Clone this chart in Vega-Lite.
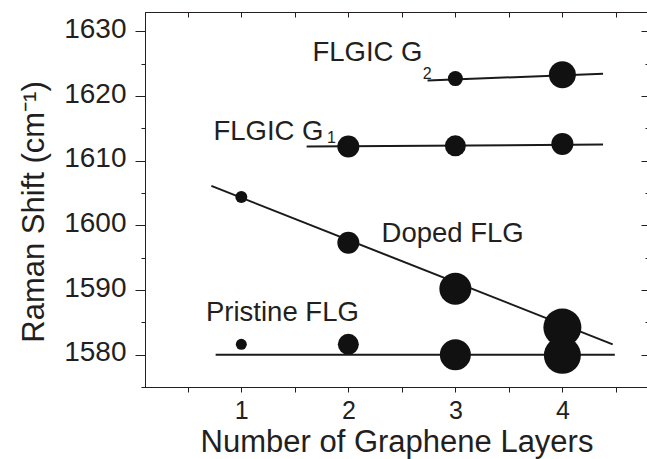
{
  "$schema": "https://vega.github.io/schema/vega-lite/v6.json",
  "width": 503,
  "height": 375,
  "autosize": {"type": "none"},
  "padding": {"left": 145, "top": 12, "right": 0, "bottom": 72},
  "background": "white",
  "config": {
    "view": {"stroke": "#231f20", "strokeWidth": 1},
    "font": "Liberation Sans",
    "axis": {"grid": false, "domainColor": "#231f20", "tickColor": "#231f20", "labelColor": "#231f20", "titleColor": "#231f20", "labelFont": "Liberation Sans", "titleFont": "Liberation Sans", "titleFontWeight": "normal", "labelOverlap": false, "labelFlush": false}
  },
  "datasets": {
    "points": [
      {"series": "Pristine FLG", "layers": 1, "shift": 1581.6, "spot": 11},
      {"series": "Pristine FLG", "layers": 2, "shift": 1581.6, "spot": 21},
      {"series": "Pristine FLG", "layers": 3, "shift": 1580.0, "spot": 31},
      {"series": "Pristine FLG", "layers": 4, "shift": 1579.9, "spot": 37},
      {"series": "Doped FLG", "layers": 1, "shift": 1604.4, "spot": 12},
      {"series": "Doped FLG", "layers": 2, "shift": 1597.3, "spot": 22},
      {"series": "Doped FLG", "layers": 3, "shift": 1590.2, "spot": 32},
      {"series": "Doped FLG", "layers": 4, "shift": 1584.2, "spot": 38},
      {"series": "FLGIC G1", "layers": 2, "shift": 1612.2, "spot": 22},
      {"series": "FLGIC G1", "layers": 3, "shift": 1612.3, "spot": 21},
      {"series": "FLGIC G1", "layers": 4, "shift": 1612.6, "spot": 22},
      {"series": "FLGIC G2", "layers": 3, "shift": 1622.7, "spot": 15},
      {"series": "FLGIC G2", "layers": 4, "shift": 1623.3, "spot": 27}
    ],
    "fits": [
      {"series": "Pristine FLG", "layers": 0.76, "shift": 1580.0},
      {"series": "Pristine FLG", "layers": 4.49, "shift": 1580.0},
      {"series": "Doped FLG", "layers": 0.72, "shift": 1606.1},
      {"series": "Doped FLG", "layers": 4.47, "shift": 1581.6},
      {"series": "FLGIC G1", "layers": 1.61, "shift": 1612.2},
      {"series": "FLGIC G1", "layers": 4.38, "shift": 1612.5},
      {"series": "FLGIC G2", "layers": 2.74, "shift": 1622.4},
      {"series": "FLGIC G2", "layers": 4.38, "shift": 1623.45}
    ],
    "labels": [
      {"text": "Doped FLG", "layers": 2.31, "shift": 1597.4},
      {"text": "Pristine FLG", "layers": 0.67, "shift": 1585.2},
      {"text": "FLGIC G", "layers": 0.74, "shift": 1613.2},
      {"text": "FLGIC G", "layers": 1.665, "shift": 1625.4}
    ],
    "subs": [
      {"text": "1", "layers": 1.8, "shift": 1612.8},
      {"text": "2", "layers": 2.695, "shift": 1622.6}
    ]
  },
  "resolve": {"axis": {"x": "independent", "y": "independent"}},
  "layer": [
    {
      "data": {"name": "fits"},
      "mark": {"type": "line", "color": "#1a1a1a", "strokeWidth": 2},
      "encoding": {
        "x": {"field": "layers", "type": "quantitative", "scale": {"domain": [0.1, 4.8], "nice": false, "zero": false},
          "axis": {"orient": "bottom", "values": [0.5, 1, 1.5, 2, 2.5, 3, 3.5, 4, 4.5], "labelExpr": "datum.value == 1 ? '1' : datum.value == 2 ? '2' : datum.value == 3 ? '3' : datum.value == 4 ? '4' : ''", "tickSize": 5, "labelPadding": 6, "labelFontSize": 25, "title": "Number of Graphene Layers", "titleFontSize": 31, "titleBaseline": "alphabetic", "titleY": 64}},
        "y": {"field": "shift", "type": "quantitative", "scale": {"domain": [1575, 1633], "nice": false, "zero": false},
          "axis": {"orient": "left", "values": [1575, 1580, 1585, 1590, 1595, 1600, 1605, 1610, 1615, 1620, 1625, 1630], "format": "d", "labelExpr": "datum.value % 10 === 0 ? datum.label : ''", "tickSize": {"condition": {"test": "datum.value % 10 === 0", "value": 10}, "value": 4}, "labelPadding": 9, "labelOffset": -2, "labelFontSize": 28, "title": "Raman Shift (cm⁻¹)", "titleFontSize": 31, "titleBaseline": "alphabetic", "titleX": -102, "titleY": 199.5, "titleAngle": 270}},
        "detail": {"field": "series"}
      }
    },
    {
      "data": {"name": "points"},
      "mark": {"type": "circle", "color": "#111111", "opacity": 1},
      "encoding": {
        "x": {"field": "layers", "type": "quantitative",
          "axis": {"orient": "top", "values": [0.5, 1, 1.5, 2, 2.5, 3, 3.5, 4, 4.5], "labels": false, "tickSize": -5, "title": null}},
        "y": {"field": "shift", "type": "quantitative",
          "axis": {"orient": "right", "values": [1575, 1580, 1585, 1590, 1595, 1600, 1605, 1610, 1615, 1620, 1625, 1630], "labels": false, "tickSize": {"condition": {"test": "datum.value % 10 === 0", "value": -7}, "value": -3}, "title": null}},
        "size": {"field": "spot", "type": "quantitative", "scale": {"type": "pow", "exponent": 2, "domain": [0, 40], "range": [0, 1600]}, "legend": null}
      }
    },
    {
      "data": {"name": "labels"},
      "mark": {"type": "text", "align": "left", "baseline": "alphabetic", "fontSize": 27.5, "font": "Liberation Sans", "color": "#231f20"},
      "encoding": {
        "x": {"field": "layers", "type": "quantitative", "axis": null},
        "y": {"field": "shift", "type": "quantitative", "axis": null},
        "text": {"field": "text"}
      }
    },
    {
      "data": {"name": "subs"},
      "mark": {"type": "text", "align": "left", "baseline": "alphabetic", "fontSize": 16, "font": "Liberation Sans", "color": "#231f20"},
      "encoding": {
        "x": {"field": "layers", "type": "quantitative", "axis": null},
        "y": {"field": "shift", "type": "quantitative", "axis": null},
        "text": {"field": "text"}
      }
    }
  ]
}
